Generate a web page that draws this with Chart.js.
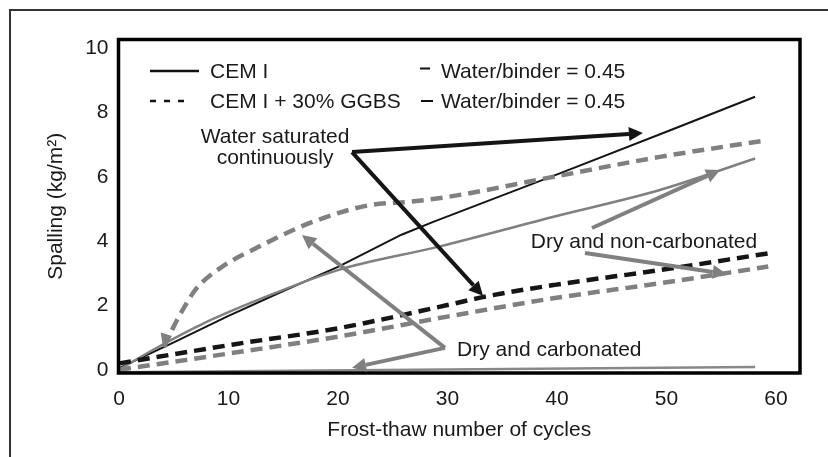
<!DOCTYPE html>
<html>
<head>
<meta charset="utf-8">
<script src="https://cdn.jsdelivr.net/npm/chart.js@4.4.1/dist/chart.umd.min.js"></script>
<style>
html,body{margin:0;padding:0;background:#fff;}
#wrap{position:relative;width:828px;height:457px;}
canvas{display:block;}
</style>
</head>
<body>
<div id="wrap"><canvas id="c" width="828" height="457"></canvas></div>
<script>
// ---- tick labels ----
const xTickValues = [0, 10, 20, 30, 40, 50, 60];
const yTickValues = [0, 2, 4, 6, 8, 10];

// ---- series (frost-thaw cycles, spalling kg/m2) ----
// CEM I, water saturated continuously (black solid)
const cemWetX = [0, 5, 9.9, 15, 20, 25.8, 28.7, 40.2, 50, 58.1];
const cemWetY = [0.05, 0.85, 1.66, 2.45, 3.2, 4.2, 4.6, 6.1, 7.4, 8.49];
// CEM I, dry and non-carbonated (grey solid)
const cemDryX = [0, 3, 7.45, 14, 20, 29.2, 39.7, 49.4, 58.1];
const cemDryY = [0, 0.6, 1.4, 2.35, 3.1, 3.83, 4.76, 5.59, 6.57];
// CEM I, dry and carbonated (grey solid, near zero)
const cemCarbX = [0, 58.1];
const cemCarbY = [-0.08, 0.09];
// CEM I + 30% GGBS, water saturated (grey dashed, steep)
const ggbsWetX = [4.1, 5, 6, 7, 9.4, 12.8, 16.6, 20, 22.9, 26.7, 30.1, 39.7, 49.4, 59.2];
const ggbsWetY = [0.7, 1.35, 1.97, 2.5, 3.2, 3.83, 4.45, 4.87, 5.12, 5.23, 5.38, 6.0, 6.62, 7.14];
// CEM I + 30% GGBS, dry and non-carbonated (black dashed)
const ggbsDryX = [0, 10.3, 20, 30.1, 33.5, 39.8, 49.4, 59.3];
const ggbsDryY = [0.2, 0.78, 1.29, 2.02, 2.28, 2.64, 3.1, 3.62];
// CEM I + 30% GGBS, dry and carbonated (grey dashed, lower)
const ggbsCarbX = [0, 10.3, 20, 30.1, 39.8, 49.4, 59.3];
const ggbsCarbY = [0, 0.52, 1.03, 1.66, 2.23, 2.69, 3.21];

const zip = (xs, ys) => xs.map((v, i) => ({x: v, y: ys[i]}));

const FONT = "'Liberation Sans', Arial, sans-serif";
const GREY = '#808080';
const BLACK = '#151515';

// annotation texts (data coordinates)
const noteTexts = [
  {text: 'Water saturated', x: 14.25, y: 7.24},
  {text: 'continuously', x: 14.25, y: 6.58},
  {text: 'Dry and non-carbonated', x: 47.95, y: 3.98},
  {text: 'Dry and carbonated', x: 39.3, y: 0.61}
];
// annotation arrows (data coordinates)
const noteArrows = [
  {x1: 21.28, y1: 6.77, x2: 47.85, y2: 7.36, color: BLACK},
  {x1: 21.28, y1: 6.77, x2: 33.24, y2: 2.30, color: BLACK},
  {x1: 43.2, y1: 4.41, x2: 54.9, y2: 6.21, color: GREY},
  {x1: 42.56, y1: 3.63, x2: 55.5, y2: 2.98, color: GREY},
  {x1: 29.77, y1: 0.68, x2: 16.71, y2: 4.19, color: GREY},
  {x1: 29.77, y1: 0.68, x2: 21.28, y2: 0.06, color: GREY}
];

function arrow(ctx, x1, y1, x2, y2, color, w, hl) {
  const ang = Math.atan2(y2 - y1, x2 - x1);
  const hw = hl * 0.5;
  const bx = x2 - hl * Math.cos(ang), by = y2 - hl * Math.sin(ang);
  ctx.strokeStyle = color; ctx.lineWidth = w; ctx.lineCap = 'butt';
  ctx.beginPath(); ctx.moveTo(x1, y1); ctx.lineTo(bx, by); ctx.stroke();
  ctx.fillStyle = color;
  ctx.beginPath(); ctx.moveTo(x2, y2);
  ctx.lineTo(bx + hw * Math.sin(ang), by - hw * Math.cos(ang));
  ctx.lineTo(bx - hw * Math.sin(ang), by + hw * Math.cos(ang));
  ctx.closePath(); ctx.fill();
}

const framePlugin = {
  id: 'frame',
  beforeDraw(chart) {
    const ctx = chart.ctx;
    ctx.save();
    ctx.fillStyle = '#fff';
    ctx.fillRect(0, 0, chart.width, chart.height);
    ctx.strokeStyle = '#333';
    ctx.lineWidth = 2;
    ctx.beginPath();
    ctx.moveTo(10, chart.height);
    ctx.lineTo(10, 10);
    ctx.lineTo(chart.width, 10);
    ctx.stroke();
    ctx.restore();
  },
  afterDatasetsDraw(chart) {
    const {ctx, chartArea: a, scales: {x, y}} = chart;
    ctx.save();
    // plot box
    ctx.strokeStyle = '#000';
    ctx.lineWidth = 3.5;
    ctx.strokeRect(a.left, a.top, a.right - a.left, a.bottom - a.top);

    // small arrowhead at start of grey dashed curve
    arrow(ctx, x.getPixelForValue(4.5), y.getPixelForValue(1.3),
          x.getPixelForValue(4.0), y.getPixelForValue(0.75), GREY, 0.1, 12);

    // annotation arrows
    ctx.lineJoin = 'miter';
    noteArrows.forEach(n => {
      arrow(ctx, x.getPixelForValue(n.x1), y.getPixelForValue(n.y1),
            x.getPixelForValue(n.x2), y.getPixelForValue(n.y2), n.color, 4, 14);
    });

    // annotation texts
    ctx.fillStyle = '#1a1a1a';
    ctx.font = '21px ' + FONT;
    ctx.textAlign = 'center';
    ctx.textBaseline = 'middle';
    noteTexts.forEach(t => {
      ctx.fillText(t.text, x.getPixelForValue(t.x), y.getPixelForValue(t.y));
    });

    // legend
    ctx.textAlign = 'left';
    ctx.strokeStyle = '#111';
    ctx.lineWidth = 2.5;
    ctx.beginPath(); ctx.moveTo(150, 71); ctx.lineTo(199, 71); ctx.stroke();
    [150, 164, 178].forEach(sx => {
      ctx.beginPath(); ctx.moveTo(sx, 101); ctx.lineTo(sx + 6, 101); ctx.stroke();
    });
    ctx.fillText('CEM I', 210, 72);
    ctx.fillText('CEM I + 30% GGBS', 210, 102);
    ctx.lineWidth = 2;
    ctx.beginPath(); ctx.moveTo(420, 68.5); ctx.lineTo(430, 68.5); ctx.stroke();
    ctx.beginPath(); ctx.moveTo(421, 101); ctx.lineTo(433, 101); ctx.stroke();
    ctx.fillText('Water/binder = 0.45', 441, 72);
    ctx.fillText('Water/binder = 0.45', 441, 102);
    ctx.restore();
  }
};

const lineBase = {pointRadius: 0, fill: false, cubicInterpolationMode: 'monotone'};

new Chart(document.getElementById('c'), {
  type: 'line',
  data: {
    datasets: [
      Object.assign({label: 'CEM I dry carbonated', data: zip(cemCarbX, cemCarbY), borderColor: '#888', borderWidth: 2.5}, lineBase),
      Object.assign({label: 'GGBS dry carbonated', data: zip(ggbsCarbX, ggbsCarbY), borderColor: GREY, borderWidth: 4.5, borderDash: [12, 7]}, lineBase),
      Object.assign({label: 'GGBS dry non-carbonated', data: zip(ggbsDryX, ggbsDryY), borderColor: BLACK, borderWidth: 4.5, borderDash: [12, 7]}, lineBase),
      Object.assign({label: 'GGBS water saturated', data: zip(ggbsWetX, ggbsWetY), borderColor: GREY, borderWidth: 4.5, borderDash: [12, 7]}, lineBase),
      Object.assign({label: 'CEM I dry non-carbonated', data: zip(cemDryX, cemDryY), borderColor: GREY, borderWidth: 2.5}, lineBase),
      Object.assign({}, lineBase, {label: 'CEM I water saturated', data: zip(cemWetX, cemWetY), borderColor: BLACK, borderWidth: 2, cubicInterpolationMode: 'default', tension: 0})
    ]
  },
  options: {
    responsive: false,
    animation: false,
    devicePixelRatio: 1,
    events: [],
    layout: {padding: {left: 0, top: 39.5, right: 28, bottom: 0}},
    plugins: {legend: {display: false}, tooltip: {enabled: false}},
    scales: {
      x: {
        type: 'linear',
        min: -0.05, max: 62.2,
        grid: {display: false, drawTicks: false},
        border: {display: false},
        afterBuildTicks: s => { s.ticks = xTickValues.map(v => ({value: v})); },
        afterFit: s => { s.height = 84; },
        ticks: {color: '#1a1a1a', font: {family: FONT, size: 21}, padding: 14, maxRotation: 0, autoSkip: false},
        title: {display: true, text: 'Frost-thaw number of cycles', color: '#1a1a1a', font: {family: FONT, size: 21}, padding: {bottom: 14.5, top: 0}}
      },
      y: {
        type: 'linear',
        min: -0.1, max: 10.27,
        grid: {display: false, drawTicks: false},
        border: {display: false},
        afterBuildTicks: s => { s.ticks = yTickValues.map(v => ({value: v})); },
        afterFit: s => { s.width = 118.5; },
        ticks: {color: '#1a1a1a', font: {family: FONT, size: 21}, padding: 10},
        title: {display: true, text: 'Spalling (kg/m²)', color: '#1a1a1a', font: {family: FONT, size: 21}, padding: {top: 44, bottom: 0}}
      }
    }
  },
  plugins: [framePlugin]
});
</script>
</body>
</html>
